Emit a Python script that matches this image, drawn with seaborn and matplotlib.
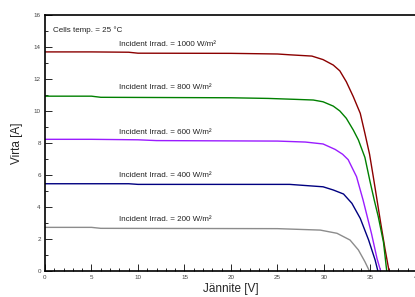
import matplotlib
matplotlib.use("Agg")
import matplotlib.pyplot as plt
import seaborn as sns
import pandas as pd
from matplotlib.ticker import MultipleLocator

irradiances = [1000, 800, 600, 400, 200]
v_1000 = [0, 5, 9, 10, 20, 25, 26.3, 28.7, 29.9, 31.0, 31.7, 32.4, 33.15, 33.9, 34.4, 34.9, 35.3, 35.66, 36.1, 36.56, 37.0]
i_1000 = [13.68, 13.68, 13.66, 13.6, 13.59, 13.55, 13.5, 13.42, 13.2, 12.86, 12.5, 11.82, 10.89, 9.85, 8.6, 7.3, 5.9, 4.6, 3.0, 1.4, 0.0]
v_800 = [0, 5, 6, 20, 24, 27, 28.85, 29.9, 31.0, 31.7, 32.4, 33.15, 33.7, 34.4, 34.95, 35.4, 35.84, 36.4, 36.75]
i_800 = [10.92, 10.92, 10.85, 10.82, 10.78, 10.72, 10.68, 10.57, 10.3, 10.0, 9.54, 8.81, 8.19, 7.1, 5.6, 4.45, 3.4, 1.8, 0.0]
v_600 = [0, 5, 10, 12, 25, 28, 29.9, 31.2, 32.0, 32.6, 33.5, 34.2, 35.1, 35.7, 36.1]
i_600 = [8.23, 8.23, 8.2, 8.15, 8.12, 8.06, 7.94, 7.6, 7.3, 6.96, 5.9, 4.45, 2.37, 0.8, 0.0]
v_400 = [0, 9, 10, 20, 26.3, 29.9, 31.0, 32.1, 33.0, 33.9, 34.8, 35.5, 35.8]
i_400 = [5.46, 5.46, 5.42, 5.42, 5.42, 5.27, 5.07, 4.82, 4.24, 3.3, 1.95, 0.7, 0.0]
v_200 = [0, 5, 6, 25, 29.6, 31.4, 32.8, 33.7, 34.4, 34.9]
i_200 = [2.74, 2.74, 2.68, 2.66, 2.57, 2.37, 1.95, 1.33, 0.6, 0.0]
label_y = [14.17, 11.49, 8.68, 6.0, 3.26]
colors = ["#8b0000", "#008000", "#9a1cff", "#000080", "#8c8c8c"]

voltages = [v_1000, v_800, v_600, v_400, v_200]
currents = [i_1000, i_800, i_600, i_400, i_200]
frames = []
for irr, v, i in zip(irradiances, voltages, currents):
    frames.append(pd.DataFrame({"V": v, "I": i, "irr": irr}))
df = pd.concat(frames, ignore_index=True)

sns.set_style("ticks")
plt.rcParams['font.family'] = ['Liberation Sans', 'DejaVu Sans']

fig = plt.figure(figsize=(4.15, 2.97), dpi=100)
ax = fig.add_axes([0.1084, 0.0865, 0.8964, 0.864])
sns.lineplot(data=df, x="V", y="I", hue="irr", hue_order=irradiances,
             palette=colors, sort=False, estimator=None,
             linewidth=1.0, legend=False, ax=ax)

ax.set_xlim(0, 40)
ax.set_ylim(0, 16)
ax.xaxis.set_major_locator(MultipleLocator(5))
ax.xaxis.set_minor_locator(MultipleLocator(1))
ax.yaxis.set_major_locator(MultipleLocator(2))
ax.yaxis.set_minor_locator(MultipleLocator(1))
ax.tick_params(which="major", direction="in", length=5, width=0.7, labelsize=4.5,
               labelcolor="#444444", pad=3, top=False, right=False)
ax.tick_params(which="minor", direction="in", length=2.5, width=0.7, top=False, right=False)
for s in ax.spines.values():
    s.set_linewidth(1.2)
    s.set_color("black")

ax.set_xlabel("Jännite [V]", fontsize=8.5, labelpad=2)
ax.set_ylabel("Virta [A]", fontsize=8.5, labelpad=8)

ax.text(0.86, 15.04, "Cells temp. = 25 °C", fontsize=5.8, va="center", ha="left", color="#222222")
for irr, ly in zip(irradiances, label_y):
    ax.text(7.96, ly, f"Incident Irrad. = {irr} W/m²", fontsize=5.8, va="center", ha="left", color="#222222")

fig.savefig("out.png", dpi=100)
